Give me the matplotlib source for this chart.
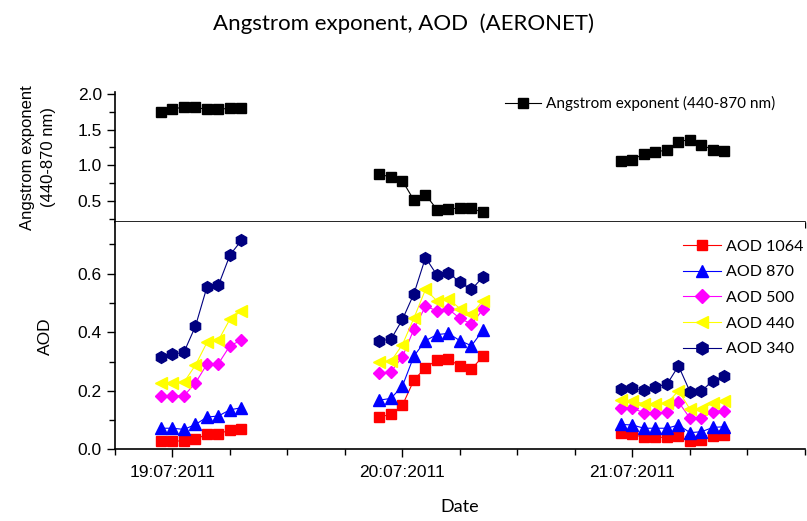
import numpy as np
import matplotlib
matplotlib.use("Agg")
import matplotlib.pyplot as plt
from matplotlib.ticker import MultipleLocator, FixedLocator

# measurement times (day of July 2011, fractional)
times = [18.95, 19.00, 19.05, 19.10, 19.15, 19.20, 19.25, 19.30,
         19.90, 19.95, 20.00, 20.05, 20.10, 20.15, 20.20, 20.25, 20.30, 20.35,
         20.95, 21.00, 21.05, 21.10, 21.15, 21.20, 21.25, 21.30, 21.35, 21.40]

angstrom = [1.75, 1.78, 1.82, 1.81, 1.78, 1.78, 1.80, 1.80,
            0.88, 0.83, 0.78, 0.51, 0.59, 0.38, 0.39, 0.40, 0.40, 0.34,
            1.06, 1.08, 1.16, 1.19, 1.21, 1.33, 1.36, 1.28, 1.22, 1.20]

aod1064 = [0.029, 0.029, 0.028, 0.035, 0.051, 0.053, 0.066, 0.069,
           0.111, 0.119, 0.151, 0.237, 0.279, 0.305, 0.307, 0.285, 0.274, 0.318,
           0.055, 0.051, 0.041, 0.041, 0.041, 0.045, 0.028, 0.032, 0.045, 0.049]
aod870 = [0.072, 0.072, 0.068, 0.085, 0.110, 0.114, 0.135, 0.142,
          0.168, 0.174, 0.217, 0.319, 0.371, 0.392, 0.396, 0.371, 0.354, 0.407,
          0.085, 0.083, 0.072, 0.072, 0.072, 0.083, 0.057, 0.060, 0.075, 0.077]
aod500 = [0.183, 0.183, 0.183, 0.227, 0.291, 0.293, 0.354, 0.373,
          0.261, 0.265, 0.316, 0.411, 0.489, 0.473, 0.479, 0.447, 0.428, 0.478,
          0.142, 0.140, 0.125, 0.125, 0.126, 0.162, 0.106, 0.108, 0.128, 0.132]
aod440 = [0.225, 0.227, 0.229, 0.288, 0.365, 0.373, 0.445, 0.473,
          0.299, 0.301, 0.358, 0.449, 0.546, 0.507, 0.513, 0.481, 0.462, 0.507,
          0.168, 0.166, 0.155, 0.155, 0.157, 0.200, 0.137, 0.137, 0.159, 0.165]
aod340 = [0.316, 0.324, 0.332, 0.421, 0.555, 0.561, 0.664, 0.714,
          0.371, 0.376, 0.444, 0.532, 0.655, 0.595, 0.604, 0.570, 0.546, 0.589,
          0.206, 0.208, 0.202, 0.214, 0.222, 0.285, 0.197, 0.200, 0.234, 0.251]

days = [19, 20, 21]
day_labels = ["19:07:2011", "20:07:2011", "21:07:2011"]

series = [("AOD 1064", aod1064, "#ff0000", "s", 7),
          ("AOD 870", aod870, "#0000ff", "^", 8.5),
          ("AOD 500", aod500, "#ff00ff", "D", 6.5),
          ("AOD 440", aod440, "#ffff00", "<", 8.5),
          ("AOD 340", aod340, "#000080", "h", 8.5)]

t = np.array(times)
day_of = np.floor(t + 0.5)

label_font = "Lato"
tick_font = "Liberation Sans"

fig = plt.figure(figsize=(8.07, 5.21), dpi=100)
ax1 = fig.add_axes([0.1425, 0.573, 0.855, 0.2498])
ax2 = fig.add_axes([0.1425, 0.1376, 0.855, 0.4354], sharex=ax1)

# top panel: angstrom exponent
a = np.array(angstrom)
for i, d in enumerate(days):
    m = day_of == d
    ax1.plot(t[m], a[m], color="black", lw=0.8, marker="s", ms=6.5,
             label="Angstrom exponent (440-870 nm)" if i == 0 else None)

# bottom panel: AOD
for name, vals, col, mk, ms in series:
    v = np.array(vals)
    for i, d in enumerate(days):
        m = day_of == d
        ax2.plot(t[m], v[m], color=col, lw=0.8, marker=mk, ms=ms,
                 markeredgecolor=col, label=name if i == 0 else None)

ax1.set_xlim(18.75, 21.75)
ax1.set_ylim(0.2, 2.02)
ax2.set_ylim(0.0, 0.775)

for ax in (ax1, ax2):
    ax.spines["right"].set_visible(False)
    ax.spines["top"].set_visible(False)
    ax.xaxis.set_major_locator(FixedLocator(days))
    ax.xaxis.set_minor_locator(MultipleLocator(0.25))
    ax.tick_params(which="major", direction="out", length=6, width=1)
    ax.tick_params(which="minor", direction="out", length=4, width=1)
    for sp in ("left", "bottom"):
        ax.spines[sp].set_linewidth(1.2)

ax1.yaxis.set_major_locator(MultipleLocator(0.5))
ax1.yaxis.set_minor_locator(MultipleLocator(0.25))
ax1.tick_params(axis="x", labelbottom=False)
ax2.yaxis.set_major_locator(MultipleLocator(0.2))
ax2.yaxis.set_minor_locator(MultipleLocator(0.1))
ax2.set_xticklabels(day_labels)
ax2.tick_params(axis="x", pad=5)

for ax in (ax1, ax2):
    for lab in ax.get_xticklabels() + ax.get_yticklabels():
        lab.set_fontfamily(tick_font)
        lab.set_fontsize(12.5)

ax1.set_ylabel("Angstrom exponent\n(440-870 nm)", fontsize=12,
               family=tick_font, linespacing=1.5)
ax1.yaxis.set_label_coords(-0.086, 0.5)
ax2.set_ylabel("AOD", fontsize=12.5, family=tick_font)
ax2.yaxis.set_label_coords(-0.09, 0.5)
ax2.set_xlabel("Date", fontsize=13, family=label_font, labelpad=14)

fig.text(0.5, 0.955, "Angstrom exponent, AOD  (AERONET)", ha="center",
         va="center", fontsize=16, family=label_font)

ax1.legend(loc="upper right", frameon=False, prop={"family": label_font, "size": 11},
           handlelength=2.4, handletextpad=0.3, borderaxespad=0.2,
           bbox_to_anchor=(0.97, 1.04))
ax2.legend(loc="upper right", frameon=False, prop={"family": label_font, "size": 11.5},
           handlelength=2.4, handletextpad=0.3, labelspacing=0.72,
           borderaxespad=0.2, markerscale=1.1, bbox_to_anchor=(1.012, 0.967))

fig.savefig("out.png", dpi=100)
